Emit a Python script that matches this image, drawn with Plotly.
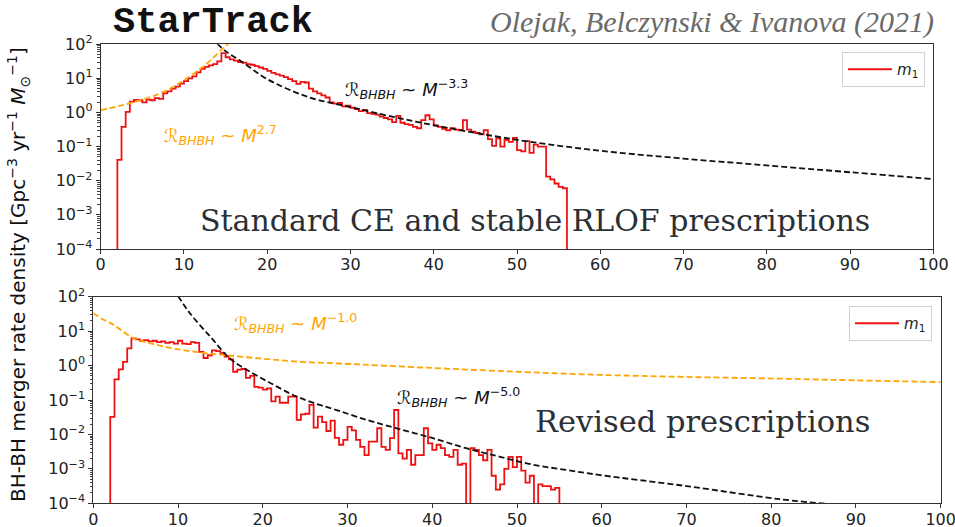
import numpy as np
import plotly.graph_objects as go

# ---------------------------------------------------------------------------
# Primary-mass (m1) merger-rate histograms, stored as log10 of the rate
# density per 0.5 Msun bin, starting at the first bin edge.
# ---------------------------------------------------------------------------
BIN_WIDTH = 0.5

standard_first_edge = 2.0
standard_m1_log_rate = [
    -1.39, -0.42, 0.02, 0.32, 0.37, 0.36, 0.30, 0.38, 0.36, 0.42,   # 2.0 - 6.5
    0.40, 0.56, 0.62, 0.70, 0.76, 0.85, 0.92, 1.00, 1.06, 1.18,      # 7.0 - 11.5
    1.28, 1.34, 1.38, 1.42, 1.50, 1.74, 1.62, 1.56, 1.52, 1.48,      # 12.0 - 16.5
    1.46, 1.42, 1.40, 1.36, 1.32, 1.28, 1.22, 1.16, 1.12, 1.08,      # 17.0 - 21.5
    1.04, 0.98, 0.92, 0.84, 0.90, 0.88, 0.70, 0.62, 0.56, 0.50,      # 22.0 - 26.5
    0.44, 0.30, 0.26, 0.28, 0.18, 0.20, 0.14, 0.10, 0.04, 0.08,      # 27.0 - 31.5
    -0.02, -0.04, -0.06, -0.12, -0.16, -0.20, -0.28, -0.10, -0.30, -0.34,  # 32.0 - 36.5
    -0.36, -0.42, -0.46, -0.22, -0.08, -0.20, -0.38, -0.42, -0.48, -0.52,  # 37.0 - 41.5
    -0.46, -0.50, -0.52, -0.22, -0.50, -0.56, -0.60, -0.64, -0.52, -0.78,  # 42.0 - 46.5
    -0.98, -0.76, -1.00, -0.80, -0.86, -0.74, -1.10, -1.14, -0.84, -1.18,  # 47.0 - 51.5
    -0.94, -1.00, -1.00, -1.88, -1.96, -2.08, -2.18, -2.22,                # 52.0 - 55.5
]

revised_first_edge = 2.0
revised_m1_log_rate = [
    -1.49, -0.40, -0.11, 0.11, 0.50, 0.79, 0.76, 0.72, 0.74, 0.70,   # 2.0 - 6.5
    0.72, 0.68, 0.70, 0.66, 0.68, 0.64, 0.72, 0.64, 0.62, 0.68,      # 7.0 - 11.5
    0.66, 0.40, 0.22, 0.30, 0.44, 0.42, 0.36, 0.26, 0.18, -0.18,     # 12.0 - 16.5
    -0.12, -0.10, -0.36, -0.30, -0.62, -0.64, -0.70, -0.66, -1.04, -0.90,  # 17.0 - 21.5
    -1.08, -1.08, -0.90, -0.90, -1.58, -1.42, -1.40, -1.14, -1.80, -1.48,  # 22.0 - 26.5
    -1.64, -1.90, -1.60, -2.10, -2.30, -2.16, -1.78, -1.88, -2.16, -2.36,  # 27.0 - 31.5
    -2.60, -2.21, -2.21, -1.82, -2.36, -2.45, -2.11, -1.29, -2.55, -2.70,  # 32.0 - 36.5
    -2.45, -2.88, -2.60, -2.60, -1.82, -2.26, -2.45, -2.30, -2.40, -2.60,  # 37.0 - 41.5
    -2.65, -2.45, -2.88, -2.85, -4.50, -2.40, -2.45, -2.60, -2.75, -2.45,  # 42.0 - 46.5
    -3.20, -3.60, -3.45, -3.00, -2.65, -2.95, -2.65, -3.05, -3.40, -3.20,  # 47.0 - 51.5
    -4.50, -3.45, -3.50, -3.50, -3.60, -3.55,                              # 52.0 - 54.5
]

# Power-law guide curves (mass in Msun, log10 of rate density)
standard_rise_mass = [0.0, 2.0, 3.9, 6.7, 8.7, 10.0, 12.3, 14.7, 15.5]
standard_rise_log = [0.07, 0.18, 0.30, 0.52, 0.75, 0.95, 1.34, 1.88, 2.05]

standard_fall_mass = [14.0, 15.0, 17.0, 20.0, 25.0, 30.0, 35.0, 40.0, 50.0,
                      60.0, 70.0, 80.0, 90.0, 100.0]
standard_fall_log = [2.02, 1.80, 1.48, 0.98, 0.45, 0.16, -0.12, -0.37, -0.80,
                     -1.12, -1.35, -1.55, -1.75, -1.95]

revised_shallow_mass = [0.0, 1.0, 2.0, 3.0, 4.7, 7.0, 9.4, 12.0, 15.3, 20.0,
                        24.4, 29.1, 40.0, 50.0, 59.8, 70.0, 81.0, 90.0, 100.0]
revised_shallow_log = [1.52, 1.36, 1.24, 1.08, 0.80, 0.63, 0.50, 0.40, 0.31, 0.20,
                       0.11, 0.06, -0.07, -0.18, -0.27, -0.33, -0.38, -0.43, -0.48]

revised_steep_mass = [10.0, 11.4, 13.8, 16.1, 18.5, 21.0, 23.2, 24.4, 26.4, 28.3,
                      32.3, 36.2, 40.1, 44.0, 48.0, 51.9, 55.8, 59.8, 70.0, 81.0, 88.0]
revised_steep_log = [2.02, 1.52, 0.84, 0.21, -0.18, -0.52, -0.81, -0.94, -1.12, -1.26,
                     -1.58, -1.85, -2.11, -2.40, -2.65, -2.88, -3.03, -3.18, -3.50, -3.88, -4.05]

x_tick_vals = [0, 10, 20, 30, 40, 50, 60, 70, 80, 90, 100]
y_tick_exponents = [-4, -3, -2, -1, 0, 1, 2]

# ---------------------------------------------------------------------------
W, H = 955, 527
FLOOR = 1e-6  # below the visible range, so the histogram edges run off the axis


def px(x):
    return x / W


def py(y):
    return 1 - y / H


def step_outline(first_edge, log_values):
    vals = [10.0 ** v for v in log_values]
    edges = first_edge + BIN_WIDTH * np.arange(len(vals) + 1)
    xs = [edges[0]] + list(edges) + [edges[-1]]
    ys = [FLOOR] + vals + [vals[-1], FLOOR]
    return xs, ys


RED = "#ee1111"
ORANGE = "#ffa500"
BLACK = "#111111"
FONT = "DejaVu Sans"

fig = go.Figure()

panels = [
    dict(xa="x", ya="y", legend="legend", first=standard_first_edge, hist=standard_m1_log_rate,
         orange=(standard_rise_mass, standard_rise_log), black=(standard_fall_mass, standard_fall_log)),
    dict(xa="x2", ya="y2", legend="legend2", first=revised_first_edge, hist=revised_m1_log_rate,
         orange=(revised_shallow_mass, revised_shallow_log), black=(revised_steep_mass, revised_steep_log)),
]

for p in panels:
    hx, hy = step_outline(p["first"], p["hist"])
    fig.add_trace(go.Scatter(
        x=hx, y=hy, mode="lines", line=dict(color=RED, width=1.8, shape="hv"),
        name="<i>m</i><sub>1</sub>", legend=p["legend"], showlegend=True,
        xaxis=p["xa"], yaxis=p["ya"]))
    om, ol = p["orange"]
    fig.add_trace(go.Scatter(
        x=om, y=[10.0 ** v for v in ol], mode="lines",
        line=dict(color=ORANGE, width=1.8, dash="6px,3px", shape="spline"),
        showlegend=False, xaxis=p["xa"], yaxis=p["ya"]))
    bm, bl = p["black"]
    fig.add_trace(go.Scatter(
        x=bm, y=[10.0 ** v for v in bl], mode="lines",
        line=dict(color=BLACK, width=1.8, dash="6px,3px", shape="spline"),
        showlegend=False, xaxis=p["xa"], yaxis=p["ya"]))

y_minor = [m * 10.0 ** e for e in range(-4, 2) for m in range(2, 10)]
y_tick_text = ["10<sup>%s</sup>" % (str(e).replace("-", "\u2212")) for e in y_tick_exponents]

axis_common = dict(
    showgrid=False, zeroline=False, showline=True, linecolor="#333333", linewidth=1,
    mirror=True, ticks="outside", ticklen=4, tickwidth=1, tickcolor="#333333",
    automargin=False, ticklabeloverflow="allow",
    tickfont=dict(family=FONT, size=16, color="#222222"),
)


def x_axis(domain, anchor):
    return dict(axis_common, domain=domain, anchor=anchor, range=[0, 100],
                tickmode="array", tickvals=x_tick_vals, ticklabelstandoff=-3)


def y_axis(domain, anchor):
    return dict(axis_common, domain=domain, anchor=anchor, type="log", range=[-4, 2],
                tickmode="array", tickvals=[10.0 ** e for e in y_tick_exponents],
                ticktext=y_tick_text,
                minor=dict(ticks="outside", ticklen=2.5, tickwidth=0.8, tickcolor="#444444",
                           tickmode="array", tickvals=y_minor))


legend_style = dict(xanchor="right", yanchor="top", bgcolor="white",
                    bordercolor="#d0d0d0", borderwidth=1, itemwidth=44,
                    font=dict(family=FONT, size=15, color="#222222"))

fig.update_layout(
    width=W, height=H, margin=dict(l=0, r=0, t=0, b=0, autoexpand=False),
    paper_bgcolor="white", plot_bgcolor="white",
    xaxis=x_axis([px(100.7), px(933.3)], "y"),
    yaxis=y_axis([py(249.0), py(44.3)], "x"),
    xaxis2=x_axis([px(93.3), px(940.7)], "y2"),
    yaxis2=y_axis([py(503.3), py(296.7)], "x2"),
    legend=dict(legend_style, x=px(925), y=py(52)),
    legend2=dict(legend_style, x=px(932), y=py(306)),
)

SERIF = "DejaVu Serif"
annotations = [
    dict(x=px(213), y=py(22), text="<b>StarTrack</b>", xanchor="center", yanchor="middle",
         font=dict(family="Liberation Mono", size=37, color="#111111")),
    dict(x=px(936), y=py(22), text="<i>Olejak, Belczynski &amp; Ivanova (2021)</i>",
         xanchor="right", yanchor="middle",
         font=dict(family="Liberation Serif", size=30, color="#6a6a6a")),
    dict(x=px(198), y=py(220), text="Standard CE and stable RLOF prescriptions",
         xanchor="left", yanchor="middle", font=dict(family=SERIF, size=30, color="#2a3035")),
    dict(x=px(872), y=py(421), text="Revised prescriptions",
         xanchor="right", yanchor="middle", font=dict(family=SERIF, size=30.5, color="#2a3035")),
    dict(x=px(343), y=py(89), text="\u211b<sub><i>BHBH</i></sub> ~ <i>M</i><sup>\u22123.3</sup>",
         xanchor="left", yanchor="middle", font=dict(family=FONT, size=18, color=BLACK)),
    dict(x=px(162), y=py(135), text="\u211b<sub><i>BHBH</i></sub> ~ <i>M</i><sup>2.7</sup>",
         xanchor="left", yanchor="middle", font=dict(family=FONT, size=18, color=ORANGE)),
    dict(x=px(232), y=py(323), text="\u211b<sub><i>BHBH</i></sub> ~ <i>M</i><sup>\u22121.0</sup>",
         xanchor="left", yanchor="middle", font=dict(family=FONT, size=18, color=ORANGE)),
    dict(x=px(395), y=py(397), text="\u211b<sub><i>BHBH</i></sub> ~ <i>M</i><sup>\u22125.0</sup>",
         xanchor="left", yanchor="middle", font=dict(family=FONT, size=18, color=BLACK)),
    dict(x=px(18), y=py(275), textangle=-90,
         text="BH-BH merger rate density [Gpc<sup>\u22123</sup> yr<sup>\u22121</sup> "
              "<i>M</i><sub>\u2299</sub><sup>\u22121</sup>]",
         xanchor="center", yanchor="middle", font=dict(family=FONT, size=20, color="#111111")),
]
for a in annotations:
    a.update(xref="paper", yref="paper", showarrow=False)
fig.update_layout(annotations=annotations)

fig.write_html("out.html")
